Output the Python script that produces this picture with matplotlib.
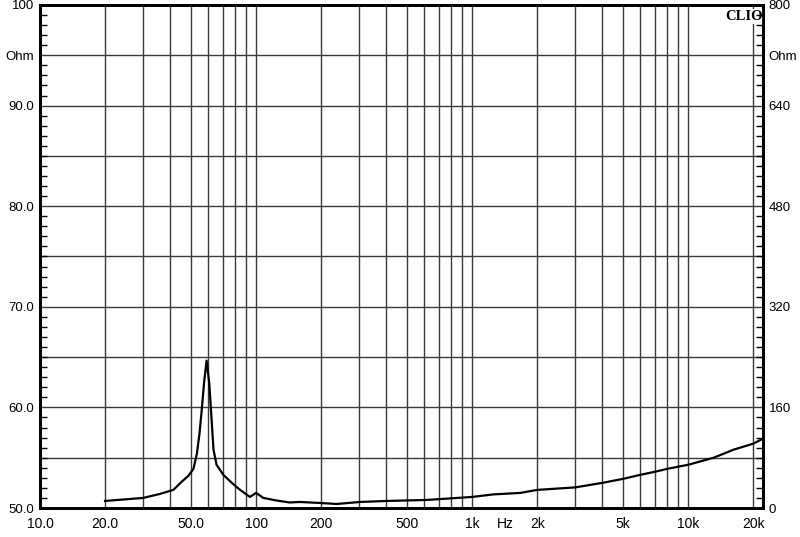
import matplotlib

matplotlib.use("Agg")
import matplotlib.pyplot as plt
import numpy as np

# impedance curve (Hz, Ohm)
freq = [20, 30, 35.9, 41.4, 45.2, 48.6, 51.3, 53.2, 54.7, 56.0, 57.4, 59.0, 60.7,
        62.1, 63.5, 65.6, 70.5, 77.2, 84.3, 93.6, 100, 108, 124, 143, 159, 197,
        236, 302, 403, 616, 1000, 1250, 1668, 2000, 3000, 4000, 5000, 6000,
        7000, 8000, 10000, 13100, 16200, 20000, 22200]
ohm = [50.7, 51.0, 51.4, 51.8, 52.6, 53.2, 53.9, 55.4, 57.4, 59.7, 62.4, 64.65,
       62.4, 59.1, 55.8, 54.3, 53.3, 52.5, 51.8, 51.1, 51.5, 51.0, 50.75, 50.55,
       50.6, 50.5, 50.4, 50.6, 50.7, 50.8, 51.1, 51.35, 51.5, 51.8, 52.05,
       52.5, 52.9, 53.3, 53.6, 53.9, 54.3, 55.0, 55.8, 56.4, 56.9]

x_ticks = [10, 20, 50, 100, 200, 500, 1000, 1420, 2000, 5000, 10000, 20000]
x_labels = ["10.0", "20.0", "50.0", "100", "200", "500", "1k", "Hz", "2k", "5k",
            "10k", "20k"]
grid_freqs = [20, 30, 40, 50, 60, 70, 80, 90, 100, 200, 300, 400, 500, 600, 700,
              800, 900, 1000, 2000, 3000, 4000, 5000, 6000, 7000, 8000, 9000,
              10000, 20000]
left_ticks = [50, 60, 70, 80, 90, 95, 100]
left_labels = ["50.0", "60.0", "70.0", "80.0", "90.0", "Ohm", "100"]
right_ticks = [0, 160, 320, 480, 640, 720, 800]
right_labels = ["0", "160", "320", "480", "640", "Ohm", "800"]

plt.rcParams["font.family"] = ["Liberation Sans", "DejaVu Sans"]

fig = plt.figure(figsize=(8, 5.37), dpi=100)
ax = fig.add_axes([0.05, 0.054, 0.904, 0.9367])
ax.set_xscale("log")
ax.set_xlim(10, 22200)
ax.set_ylim(50, 100)

for f in grid_freqs:
    ax.axvline(f, color="#3a3a3a", lw=1.0, zorder=1)
for z in np.arange(55, 100, 5):
    ax.axhline(z, color="#3a3a3a", lw=1.0, zorder=1)

ax.plot(freq, ohm, color="black", lw=1.6, zorder=3)

ax.set_xticks(x_ticks)
ax.set_xticklabels(x_labels)
ax.xaxis.set_minor_locator(matplotlib.ticker.NullLocator())
ax.tick_params(axis="x", length=0, pad=6.5, labelsize=10)

ax.set_yticks(left_ticks)
ax.set_yticklabels(left_labels)
ax.set_yticks(np.arange(50, 101, 1), minor=True)
ax.tick_params(axis="y", which="major", length=0, pad=4, labelsize=9.5)
ax.tick_params(axis="y", which="minor", direction="in", length=5, width=1)

ax2 = ax.twinx()
ax2.set_ylim(0, 800)
ax2.set_yticks(right_ticks)
ax2.set_yticklabels(right_labels)
ax2.set_yticks(np.arange(0, 801, 16), minor=True)
ax2.tick_params(axis="y", which="major", length=0, pad=4, labelsize=9.5)
ax2.tick_params(axis="y", which="minor", direction="in", length=5, width=1)

for a in (ax, ax2):
    for s in a.spines.values():
        s.set_linewidth(2)
        s.set_color("black")

ax.text(0.9995, 0.99, "CLIO", transform=ax.transAxes, ha="right", va="top",
        fontsize=10.5, fontweight="bold", family="Liberation Serif",
        bbox=dict(facecolor="white", edgecolor="none", pad=1.0), zorder=5)

fig.savefig("out.png", dpi=100)
